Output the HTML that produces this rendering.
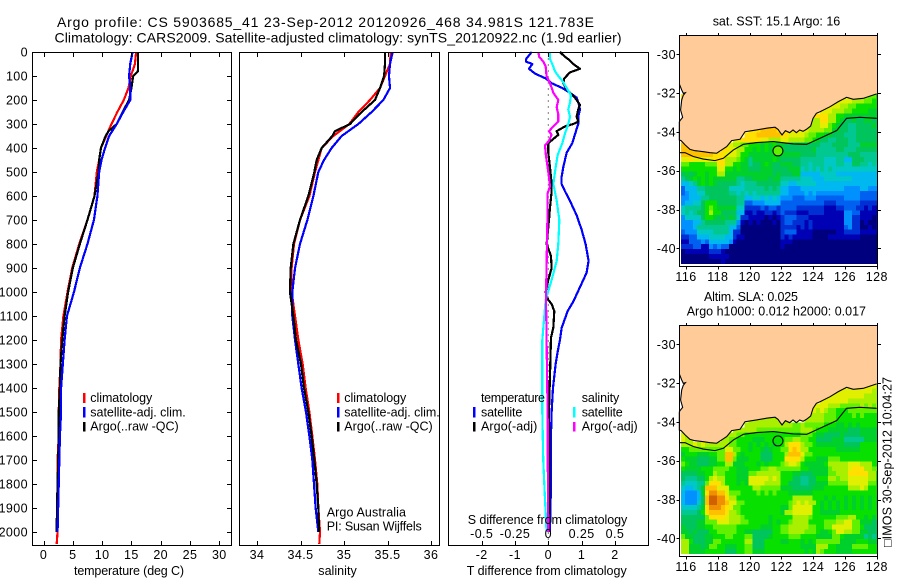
<!DOCTYPE html>
<html lang="en">
<head>
<meta charset="utf-8">
<title>Argo profile chart</title>
<style>
html,body{margin:0;padding:0;background:#fff}
svg{display:block}
text{font-family:"Liberation Sans",sans-serif;font-size:12.5px;fill:#000}
.t{font-size:14px}
</style>
</head>
<body>
<svg id="chart" xmlns="http://www.w3.org/2000/svg" width="900" height="580" viewBox="0 0 900 580">
<rect x="0" y="0" width="900" height="580" fill="#fff"/>
<g id="maps"></g>
<g id="plots"></g>
<g id="ticks"></g>

<text class="t" x="57" y="27" textLength="537">Argo profile: CS 5903685_41 23-Sep-2012 20120926_468 34.981S 121.783E</text>
<text class="t" x="54.5" y="42.5" textLength="567">Climatology: CARS2009. Satellite-adjusted climatology: synTS_20120922.nc (1.9d earlier)</text>

<text x="74" y="575" textLength="110">temperature (deg C)</text>
<text x="318.3" y="575" textLength="38.4">salinity</text>
<text x="466.7" y="575" textLength="160">T difference from climatology</text>
<text x="467.7" y="524" textLength="159.6">S difference from climatology</text>

<g>
<rect x="83" y="393" width="2.5" height="10" fill="#f00"/>
<rect x="83" y="407" width="2.5" height="10.5" fill="#00f"/>
<rect x="83" y="422" width="2.5" height="9.5" fill="#000"/>
<text x="90.3" y="402" textLength="62">climatology</text>
<text x="90.3" y="416.5" textLength="95.4">satellite-adj. clim.</text>
<text x="90.3" y="430.5" textLength="88.4">Argo(..raw -QC)</text>
</g>
<g>
<rect x="337" y="393" width="2.5" height="10" fill="#f00"/>
<rect x="337" y="407" width="2.5" height="10.5" fill="#00f"/>
<rect x="337" y="422" width="2.5" height="9.5" fill="#000"/>
<text x="344.3" y="402" textLength="62">climatology</text>
<text x="344.3" y="416.5" textLength="95.4">satellite-adj. clim.</text>
<text x="344.3" y="430.5" textLength="88.4">Argo(..raw -QC)</text>
</g>
<text x="326.7" y="516.5" textLength="79.3">Argo Australia</text>
<text x="326.7" y="530.5" textLength="95">PI: Susan Wijffels</text>

<g>
<text x="481" y="402" textLength="64">temperature</text>
<rect x="473" y="407" width="2.5" height="10.5" fill="#00f"/>
<rect x="473" y="422" width="2.5" height="9.5" fill="#000"/>
<text x="481" y="416.5" textLength="41.3">satellite</text>
<text x="481" y="430.5" textLength="56.3">Argo(-adj)</text>
<text x="581.7" y="402" textLength="37.6">salinity</text>
<rect x="573" y="407" width="2.5" height="10.5" fill="#0ff"/>
<rect x="573" y="422" width="2.5" height="9.5" fill="#f0f"/>
<text x="581.7" y="416.5" textLength="41">satellite</text>
<text x="581.7" y="430.5" textLength="56">Argo(-adj)</text>
</g>

<text x="712.7" y="25.5" textLength="127.5">sat. SST: 15.1 Argo: 16</text>
<text x="704" y="301" textLength="94">Altim. SLA: 0.025</text>
<text x="686.7" y="315.5" textLength="179.3">Argo h1000: 0.012 h2000: 0.017</text>
<text transform="translate(891.5 547) rotate(-90)" x="0" y="0" textLength="170">□IMOS 30-Sep-2012 10:04:27</text>
</svg>

<script>
// ---- tick labels ----
const depthTicks = [0,100,200,300,400,500,600,700,800,900,1000,1100,1200,1300,1400,1500,1600,1700,1800,1900,2000];
const tempTicks = [0,5,10,15,20,25,30];
const salTicks = [34,34.5,35,35.5,36];
const tDiffTicks = [-2,-1,0,1,2];
const sDiffTicks = [-0.5,-0.25,0,0.25,0.5];
const lonTicks = [116,118,120,122,124,126,128];
const latTicks = [-30,-32,-34,-36,-38,-40];

// ---- profile values ----
const climDepths = [0,50,100,150,200,250,300,350,400,450,500,600,700,800,900,1000,1100,1200,1300,1400,1500,1600,1700,1800,1900,2000,2050];
const argoDepths = [0,50,80,100,150,200,250,300,330,350,400,450,500,600,700,800,900,1000,1100,1200,1300,1400,1500,1600,1700,1800,1900,2000];
const tempClim = [15.8,15.6,14.9,14.5,13.7,12.6,11.6,10.7,9.8,9.5,9.1,8.7,7.5,6.1,4.9,4.1,3.4,3.0,2.9,2.7,2.6,2.6,2.4,2.4,2.4,2.4,2.25];
const tempSat = [15.2,14.8,14.6,14.8,14.8,13.6,12.5,11.2,10.5,9.9,9.5,9.2,8.6,7.5,6.2,5.2,4.0,3.6,3.3,3.0,3.0,2.8,2.7,2.6,2.5,2.4];
const tempArgo = [16.1,16.1,16.1,15.3,15.0,14.6,13.5,12.5,11.1,10.6,9.8,9.5,9.4,8.7,7.5,6.2,5.0,4.2,3.6,3.2,2.9,2.8,2.6,2.6,2.5,2.4,2.3,2.25];
const salClim = [35.536,35.529,35.471,35.414,35.299,35.165,35.061,34.877,34.743,34.705,34.667,34.602,34.494,34.425,34.398,34.398,34.437,34.475,34.525,34.559,34.602,34.636,34.667,34.693,34.705,34.724,34.716];
const salSat = [35.559,35.529,35.517,35.529,35.452,35.318,35.165,34.973,34.858,34.770,34.705,34.648,34.579,34.494,34.437,34.406,34.406,34.437,34.475,34.513,34.563,34.602,34.636,34.655,34.674,34.705];
const salArgo = [35.471,35.471,35.465,35.46,35.414,35.356,35.203,35.069,34.897,34.866,34.743,34.686,34.659,34.590,34.494,34.418,34.387,34.379,34.418,34.448,34.506,34.540,34.590,34.628,34.659,34.686,34.705,34.713];

// ---- difference values ----
const tSatDepths = [0,30,40,50,70,90,110,130,150,170,190,220,240,270,300,330,380,420,480,520,550,580,620,680,740,800,870,920,980,1040,1080,1150,1200,1250,1300,1400,1500,1600,1800,2000];
const tSatDiff = [-0.50,-0.67,-0.67,-0.48,-0.58,-0.40,-0.08,0.10,0.42,0.65,0.85,0.92,0.95,0.90,0.90,0.83,0.72,0.55,0.45,0.40,0.40,0.50,0.65,0.85,1.00,1.12,1.21,1.15,0.95,0.75,0.58,0.40,0.35,0.28,0.22,0.14,0.10,0.08,0.08,0.05];
const tArgoDepths = [0,20,30,50,70,85,110,130,150,170,190,220,240,270,290,300,310,330,345,380,420,480,550,580,650,700,800,850,900,950,1000,1033,1050,1080,1150,1190,1300,1500,1700,1800,2000];
const tArgoDiff = [0.35,0.50,0.60,0.75,0.95,0.65,0.48,0.45,0.52,0.65,0.80,0.95,0.90,0.85,0.90,0.75,0.50,0.25,0.30,0,0,0.05,0.10,0.10,0.05,0.02,-0.05,0.08,0.10,0,-0.08,0,0.10,0.18,0.15,0.08,0.06,0.02,0.04,0.04,0.02];
const sSatDepths = [0,30,50,80,100,120,150,180,210,240,270,300,340,380,430,500,550,620,700,800,870,950,1033,1100,1200,1300,1500,1700,1800,2000];
const sSatDiff = [0.013,0.013,0.03,0.05,0.075,0.105,0.138,0.17,0.163,0.15,0.163,0.15,0.125,0.105,0.07,0.05,0.038,0.063,0.083,0.075,0.063,0.025,-0.02,-0.03,-0.045,-0.045,-0.045,-0.038,-0.03,-0.013];
const sArgoDepths = [0,20,40,60,100,130,170,200,230,260,290,310,330,345,370,390,430,500,560,590,650,800,900,1033,1100,1200,1500,1800,2000];
const sArgoDiff = [-0.075,-0.068,-0.038,-0.02,-0.013,0.013,0.038,0.075,0.063,0.075,0.075,0.038,0.005,0.025,0.005,-0.025,-0.018,0,0.013,-0.005,-0.005,-0.01,-0.013,-0.018,-0.015,-0.013,-0.005,-0.003,0];

// ---- map geography (lon / lat) ----
const coastLon = [115.58,115.73,115.83,115.96,115.83,115.73,115.66,115.79,115.62,115.58,115.58,115.69,115.94,116.25,116.57,117.09,117.51,117.93,118.24,118.56,118.87,119.40,119.71,120.44,121.07,121.60,121.79,121.96,122.04,122.25,122.52,122.73,122.94,123.15,123.36,123.57,123.84,123.99,124.20,124.43,125.06,125.58,126.10,126.52,127.15,127.99];
const coastLat = [-31.53,-31.84,-32.01,-31.98,-32.11,-32.35,-32.87,-33.25,-33.42,-33.49,-34.42,-34.45,-34.67,-34.90,-34.97,-35.02,-35.07,-35.10,-34.93,-34.76,-34.45,-34.38,-33.99,-33.90,-33.81,-33.76,-33.87,-34.07,-34.16,-33.94,-34.04,-33.90,-34.04,-33.90,-33.97,-33.87,-33.70,-33.30,-33.04,-32.96,-32.70,-32.44,-32.22,-32.32,-32.27,-32.04];
const isobathLon = [115.58,115.94,116.46,117.09,117.82,118.35,118.98,119.61,120.44,121.49,122.75,123.59,124.43,125.48,126.10,126.94,127.99];
const isobathLat = [-35.07,-35.07,-35.27,-35.40,-35.48,-35.36,-34.93,-34.64,-34.55,-34.50,-34.62,-34.64,-34.33,-33.93,-33.30,-33.25,-33.30];
const argoLon = 121.783;
const argoLat = -34.981;
const argoSstLevel = 'b';

// ---- gridded map levels: one character per 0.25 deg cell, '-' is no data; '|' separates west and east runs ----
const sstRows = [
"e|ddcccbba",
"e|ddddcccbbaa",
"dddccbbaaaaaa",
"dddcccbbaaaa999",
"eeeeccaa999999999",
"cceecca9889889988",
"cccddba98877888898",
"eeeffffe eeeeeddc cccbb99887788 8888",
"eeeffffff eeddddcbb aa99888777888888",
"ddeeeeeddccc ddccccbba 9887788877 88 8888",
"ff|ddccbbaaa9a9a9 9888888888 777888877799999",
"ffff------ eeddcc aa9a9a9a9 9888888897 777788777888888",
"ffffffffee edddc aa999 99999 99999 88887 77777 77888 77777",
"ddedddddee ecccb a9799 999a9 88888 77777 76667 75588 87777",
"bbaaaabbbe eccaa 99788 9a988 99988 77677 76667 76688 77676",
"aaaaaaaaad daa9a 99888 99988 88999 67676 76766 66666 66666",
"8989aa9aac c9999 99999 99989 88899 55555 66665 55555 55555",
"789a9a9a99 99997 78899 99899 77777 66655 56666 66655 55555",
"5567 9a9a98 88887 67778 88888 66556 66665 55555 55555 55555",
"3555778888 88666 67777 78787 55444 55555 55555 54444 55444",
"3455668888 88776 76767 77777 55444 45454 44444 44444 33333",
"4455577888 88887 75566 56565 44433 34443 33333 34444 33333",
"4556 68 aaa8 88887 73344 45555 33333 33333 32223 33333 22222",
"677778aba9 99996 62222 32332 33332 22222 21112 23332 21211",
"676788acaa 88885 51121 12212 32221 11222 21111 14433 11111",
"4666 68aa98 98986 22111 10101 23332 22111 11111 14422 11101",
"4445578888 87774 10101 00010 23322 21211 11111 14422 01001",
"4445777777 77553 00000 00000 22221 21211 11111 13422 00101",
"3444666677 77522 00000 00000 23331 11100 00001 12222 11111",
"2233555666 65521 10000 00000 21211 11100 00111 11111 00000",
"1133343555 55410 00000 00000 11100 00000 00000 00000 00000",
"2223311434 33000 00000 00000 10000 00000 00000 00000 00000",
"0111111222 10000 00000 00000 00000 00000 00000 00000 00000",
"0000000111 11000 00000 00000 00000 00000 00000 00000 00000",
"0000000000 10000 00000 00000 00000 00000 00000 00000 00000"
];
const slaRows = [
"dddddddc",
"dddddddddcc",
"dddddddddcccc",
"dddddddcccccccc",
"ddddcccbbbbbcbcbc",
"dcdcbbaaabbbbbbbb",
"ccccbbbaaaababaaaa",
"cccccccc cc----cc cccbbbaaaaaaaaaaa",
"ccccccccc cccbbcbbb bbaaa99a9a9aaaaa",
"ccccccbbbbbb bbbbbcccb aaa9999988899999",
"dc|cccbbaaaaaaaaa aaaaabbba9 988889 88889 9999",
"dcc------- ccbbaa aa999aaaa abbccbbaa8 888999777779999",
"cccdcdcccc ccbba aa9a9 a9a9a aceee cbba9 99999 98888 aaaaa",
"aabbbbbbbb bddbb aa9aa 989aa bbefe ccaaa aaaa9 99999 aaaaa",
"9aaa999aab bffca 9aaaa 888aa acfff dbbaa aaaaa aaaaa aaaaa",
"a99988899b bffb9 99aaa 888aa aeeee caaa9 99bbb aaaaa aaaaa",
"ba9988899a acc99 9aaa9 a9aaa bcddc a9999 9accc ccddd cccaa",
"a9999aaabb bbaa9 99aaa bbccb bbbbb aa999 99bcc ccdee eccbb",
"888899aacb baaa9 99bbc ccccc aaa99 88899 99bbc cceee eecca",
"877788acdc caaa9 99ddd ddcdc aaa88 7788a aaccb ccddd ddcca",
"766677beee caaa9 a9ddd dcccc aa888 77889 99bbb bbddd ddbba",
"655679fffd ddaaa aaacc bbbbb 99988 88899 9aaaa aaccc dcaaa",
"544459eggf fdbbb aaaab ababa aa999 999aa aaaaa aaaaa aaaaa",
"544458fhhg gecca aaaaa aaaaa aaacc cccaa a9a9a a9a9a 9a9a9",
"544468fhhg gfddb baaaa aaaaa aabcd cdcca 9a9a9 a9a9a 9a9a9",
"666679eggg fedbb aaaaa aaaaa 99bdd dddaa 9a9a9 a9a9a 9a9a9",
"77778aefff feccb aaaaa aaaaa 9ccdd dddaa 99999 aaaaa aaaaa",
"888888beee edccc baaaa aa9aa aaacc ccbaa aaaab bbcca a9a9a",
"888899bbbd ddccc bbaaa aa9a9 aabcc ccaaa abbbc cddbb 99988",
"988899aabb bbbba aaaaa 999aa bbccc ccbba abbdd dddbb a8888",
"9989888aab bbbba a9988 888aa bbccc cbbba 99abd dccbb 99888",
"b9988899aa abbaa abb88 889aa aabbb aaaa9 999bb a9999 97878",
"cca88899bb aaaaa acc88 8aaaa 99aaa 9a9ab bbbbb 9999a aa999",
"cc99989bba a999a abb88 8aaaa aaaaa 9999c ccaa9 999bb bbaaa",
"cc9999aaaa a888a abb99 9aaaa aaaaa a9a9c baaa9 999aa aaaaa"
];
const levelKeys = "0123456789abcdefgh";
const levelColors = ["#00007f","#0000b4","#0030d4","#0060f0","#0090ff","#00b8f0","#00c8c4","#00c890","#00c45c","#00d02c","#08e000","#60f000","#a8f000","#e0f000","#ffe000","#ffc000","#f09000","#d06000"];

// ---- scales ----
const SVGNS = "http://www.w3.org/2000/svg";
const depthY = d => 52 + d * 0.24;
const tempX = t => 43.5 + t * 5.86;
const salX = s => 257 + (s - 34) * 87;
const tDiffX = v => 548.3 + v * 33.3;
const sDiffX = v => 548.3 + v * 133.2;
const lonX = lon => 686 + (lon - 116) * 15.9;
const latY = (lat, top) => top + 19.3 + (-30 - lat) * 19.4;

function mk(tag, attrs, parent) {
  const el = document.createElementNS(SVGNS, tag);
  for (const k in attrs) el.setAttribute(k, attrs[k]);
  parent.appendChild(el);
  return el;
}
function tickLabel(parent, x, y, txt, anchor) {
  const el = mk('text', {x: x, y: y, 'text-anchor': anchor, 'letter-spacing': '0.4'}, parent);
  el.textContent = txt;
  return el;
}
const mapsG = document.getElementById('maps');
const plotsG = document.getElementById('plots');
const ticksG = document.getElementById('ticks');

// ---- profile lines ----
function drawLine(depths, values, xFn, color, width) {
  const n = Math.min(depths.length, values.length);
  const pts = [];
  for (let i = 0; i < n; i++) pts.push(xFn(values[i]).toFixed(2) + ',' + depthY(depths[i]).toFixed(2));
  return mk('polyline', {points: pts.join(' '), fill: 'none', stroke: color, 'stroke-width': width, 'stroke-linejoin': 'round', 'shape-rendering': 'crispEdges'}, plotsG);
}
let ln;
ln = drawLine(climDepths, tempClim, tempX, '#f00', 2.2);


ln = drawLine(argoDepths, tempArgo, tempX, '#000', 2.2);


ln = drawLine(climDepths, tempSat, tempX, '#00f', 2.2);



ln = drawLine(climDepths, salClim, salX, '#f00', 2.2);


ln = drawLine(climDepths, salSat, salX, '#00f', 2.2);


ln = drawLine(argoDepths, salArgo, salX, '#000', 2.2);



const zeroLine = mk('line', {x1: tDiffX(0), x2: tDiffX(0), y1: 52.5, y2: 545, stroke: '#000', 'stroke-width': 1, 'stroke-dasharray': '1 5'}, plotsG);


ln = drawLine(tSatDepths, tSatDiff, tDiffX, '#00f', 2.2);


ln = drawLine(tArgoDepths, tArgoDiff, tDiffX, '#000', 2.2);


ln = drawLine(sSatDepths, sSatDiff, sDiffX, '#0ff', 2.2);


ln = drawLine(sArgoDepths, sArgoDiff, sDiffX, '#f0f', 2.2);



// ---- panel frames and ticks ----
function frame(x0, x1, y0, y1, name) {
  const r = mk('rect', {x: x0, y: y0, width: x1 - x0, height: y1 - y0, fill: 'none', stroke: '#000', 'stroke-width': 1, 'shape-rendering': 'crispEdges'}, ticksG);
  
  
}
function tick(x1, y1, x2, y2) {
  const t = mk('line', {x1: x1, y1: y1, x2: x2, y2: y2, stroke: '#000', 'stroke-width': 1, 'shape-rendering': 'crispEdges'}, ticksG);
  
  
}
frame(32.5, 231.5, 52.5, 545.5, 'temperature-panel-frame');
frame(239.5, 439.5, 52.5, 545.5, 'salinity-panel-frame');
frame(448.5, 648.5, 52.5, 545.5, 'difference-panel-frame');

depthTicks.forEach(d => {
  const y = Math.round(depthY(d)) + 0.5;
  tick(33, y, 37, y);
  tick(227, y, 231, y);
  const lab = tickLabel(ticksG, 28, depthY(d) + 4.5, String(d), 'end');
  
  
});
function xAxis(ticks, xFn, name, fmt) {
  ticks.forEach(v => {
    const x = Math.round(xFn(v)) + 0.5;
    tick(x, 53, x, 57);
    tick(x, 541, x, 545);
    const lab = tickLabel(ticksG, xFn(v), 559, fmt ? fmt(v) : String(v), 'middle');
    
    
  });
}
xAxis(tempTicks, tempX, 'temperature-tick-label');
xAxis(salTicks, salX, 'salinity-tick-label');
xAxis(tDiffTicks, tDiffX, 't-difference-tick-label');
sDiffTicks.forEach(v => {
  const lab = tickLabel(ticksG, sDiffX(v), 538, String(v), 'middle');
  
  
});

// ---- maps ----
function expandRow(row) {
  const clean = row.replace(/ /g, '');
  const parts = clean.split('|');
  if (parts.length === 2) return parts[0].padEnd(50 - parts[1].length, '-') + parts[1];
  return clean.padStart(50, '-');
}
function drawMap(rows, top, name, cellName, circleFill) {
  const g = mk('g', {}, mapsG);
  
  
  const bottom = top + 231.5;
  rows.forEach((row, j) => {
    const s = expandRow(row);
    const latN = -32.04 - 0.25 * j;
    for (let i = 0; i < 50; i++) {
      const level = levelKeys.indexOf(s[i]);
      if (level < 0) continue;
      const lonW = 115.69 + 0.25 * i;
      const x0 = lonX(lonW);
      const x1 = Math.min(lonX(lonW + 0.25), 877.5);
      const y0 = latY(latN, top);
      const y1 = latY(latN - 0.25, top);
      const cell = mk('rect', {x: x0.toFixed(2), y: y0.toFixed(2), width: (x1 - x0 + 0.3).toFixed(2), height: (y1 - y0 + 0.3).toFixed(2), fill: levelColors[level], 'shape-rendering': 'crispEdges'}, g);
      
      
    }
  });
  const landPts = [[679.5, top + 0.5]];
  landPts.push([lonX(coastLon[0]), top + 0.5]);
  coastLon.forEach((lon, i) => landPts.push([lonX(lon), latY(coastLat[i], top)]));
  landPts.push([877.5, latY(coastLat[coastLat.length - 1], top)]);
  landPts.push([877.5, top + 0.5]);
  const land = mk('polygon', {points: landPts.map(p => p[0].toFixed(2) + ',' + p[1].toFixed(2)).join(' '), fill: '#ffcc99'}, g);
  
  
  const coast = mk('polyline', {points: coastLon.map((lon, i) => lonX(lon).toFixed(2) + ',' + latY(coastLat[i], top).toFixed(2)).join(' '), fill: 'none', stroke: '#000', 'stroke-width': 1.1}, g);
  
  
  const iso = mk('polyline', {points: isobathLon.map((lon, i) => lonX(lon).toFixed(2) + ',' + latY(isobathLat[i], top).toFixed(2)).join(' '), fill: 'none', stroke: '#000', 'stroke-width': 1.1}, g);
  
  
  const dot = mk('circle', {cx: lonX(argoLon), cy: latY(argoLat, top), r: 5, fill: circleFill, stroke: '#000', 'stroke-width': 1}, g);
  
  

  frame(679.5, 877.5, top + 0.5, bottom, name + '-frame');
  lonTicks.forEach(lon => {
    const x = Math.round(lonX(lon)) + 0.5;
    tick(x, top - 2, x, top);
    tick(x, bottom, x, bottom + 3);
    const lab = tickLabel(ticksG, lonX(lon), top + 246, String(lon), 'middle');
    
    
  });
  latTicks.forEach(lat => {
    const y = Math.round(latY(lat, top)) + 0.5;
    tick(676.5, y, 679, y);
    tick(878, y, 881, y);
    const lab = tickLabel(ticksG, 676, latY(lat, top) + 4.5, String(lat), 'end');
    
    
  });
}
drawMap(sstRows, 35, 'sst-map', 'sst-cell', levelColors[levelKeys.indexOf(argoSstLevel)]);
drawMap(slaRows, 325, 'sla-map', 'sla-cell', 'none');
</script>
</body>
</html>
